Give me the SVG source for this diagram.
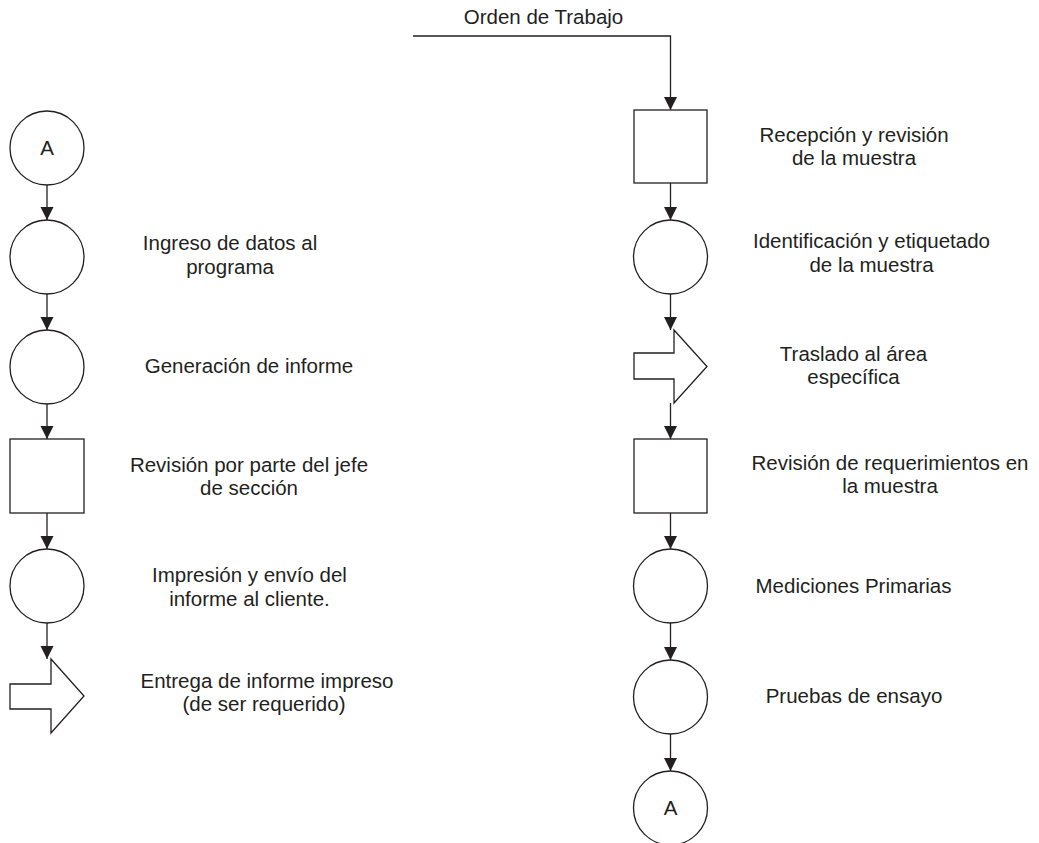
<svg xmlns="http://www.w3.org/2000/svg" width="1039" height="843" viewBox="0 0 1039 843">
  <style>
    .shape { fill: #ffffff; stroke: #231f20; stroke-width: 1.3; }
    .edge { fill: none; stroke: #231f20; stroke-width: 1.3; marker-end: url(#head); }
    .lbl { font-family: "Liberation Sans", Arial, sans-serif; font-size: 20.5px; fill: #231f20; text-anchor: middle; }
  </style>
  <defs>
    <marker id="head" markerUnits="userSpaceOnUse" markerWidth="14" markerHeight="14" refX="13" refY="6.5" orient="auto">
      <path d="M0,0 L13,6.5 L0,13 Z" fill="#231f20"/>
    </marker>
  </defs>
  <rect width="1039" height="843" fill="#ffffff"/>

  <!-- connectors -->
  <g id="connectors">
    <text class="lbl" x="543.5" y="24">Orden de Trabajo</text>
    <path class="edge" d="M413,36 H670.5 V110"/>
    <path class="edge" d="M670.5,183 V220"/>
    <path class="edge" d="M670.5,294 V330"/>
    <path class="edge" d="M670.5,403 V439"/>
    <path class="edge" d="M670.5,513 V549"/>
    <path class="edge" d="M670.5,623 V660"/>
    <path class="edge" d="M670.5,734 V771"/>

    <path class="edge" d="M47,185 V220"/>
    <path class="edge" d="M47,294 V330"/>
    <path class="edge" d="M47,404 V439"/>
    <path class="edge" d="M47,513 V549"/>
    <path class="edge" d="M47,623 V659"/>
  </g>

  <!-- right column -->
  <g id="recepcion">
    <rect class="shape" x="634" y="110" width="73" height="73"/>
    <text class="lbl" x="854" y="141.5">Recepción y revisión</text>
    <text class="lbl" x="854" y="164.5">de la muestra</text>
  </g>
  <g id="identificacion">
    <circle class="shape" cx="670.5" cy="257" r="37"/>
    <text class="lbl" x="871.5" y="248">Identificación y etiquetado</text>
    <text class="lbl" x="871.5" y="271.5">de la muestra</text>
  </g>
  <g id="traslado">
    <path class="shape" d="M634,353 H674 V330 L707,366.5 L674,403 V379 H634 Z"/>
    <text class="lbl" x="853.5" y="360.5">Traslado al área</text>
    <text class="lbl" x="853.5" y="383.5">específica</text>
  </g>
  <g id="requerimientos">
    <rect class="shape" x="634" y="439" width="73" height="74"/>
    <text class="lbl" x="890" y="470">Revisión de requerimientos en</text>
    <text class="lbl" x="890" y="493">la muestra</text>
  </g>
  <g id="mediciones">
    <circle class="shape" cx="670.5" cy="586" r="37"/>
    <text class="lbl" x="853.5" y="593">Mediciones Primarias</text>
  </g>
  <g id="pruebas">
    <circle class="shape" cx="670.5" cy="697" r="37"/>
    <text class="lbl" x="854" y="703">Pruebas de ensayo</text>
  </g>
  <g id="conector-a-salida">
    <circle class="shape" cx="670.5" cy="808" r="37"/>
    <text class="lbl" x="670.5" y="815">A</text>
  </g>

  <!-- left column -->
  <g id="conector-a-entrada">
    <circle class="shape" cx="47" cy="148" r="37"/>
    <text class="lbl" x="47" y="155">A</text>
  </g>
  <g id="ingreso">
    <circle class="shape" cx="47" cy="257" r="37"/>
    <text class="lbl" x="230" y="250">Ingreso de datos al</text>
    <text class="lbl" x="230" y="274">programa</text>
  </g>
  <g id="generacion">
    <circle class="shape" cx="47" cy="367" r="37"/>
    <text class="lbl" x="249" y="373">Generación de informe</text>
  </g>
  <g id="revision-jefe">
    <rect class="shape" x="10" y="439" width="74" height="74"/>
    <text class="lbl" x="249" y="471.5">Revisión por parte del jefe</text>
    <text class="lbl" x="249" y="495">de sección</text>
  </g>
  <g id="impresion">
    <circle class="shape" cx="47" cy="586" r="37"/>
    <text class="lbl" x="249.5" y="582">Impresión y envío del</text>
    <text class="lbl" x="249.5" y="605.5">informe al cliente.</text>
  </g>
  <g id="entrega">
    <path class="shape" d="M10,684 H51 V659 L84,696 L51,733 V709 H10 Z"/>
    <text class="lbl" x="267" y="688">Entrega de informe impreso</text>
    <text class="lbl" x="264" y="711">(de ser requerido)</text>
  </g>
</svg>
